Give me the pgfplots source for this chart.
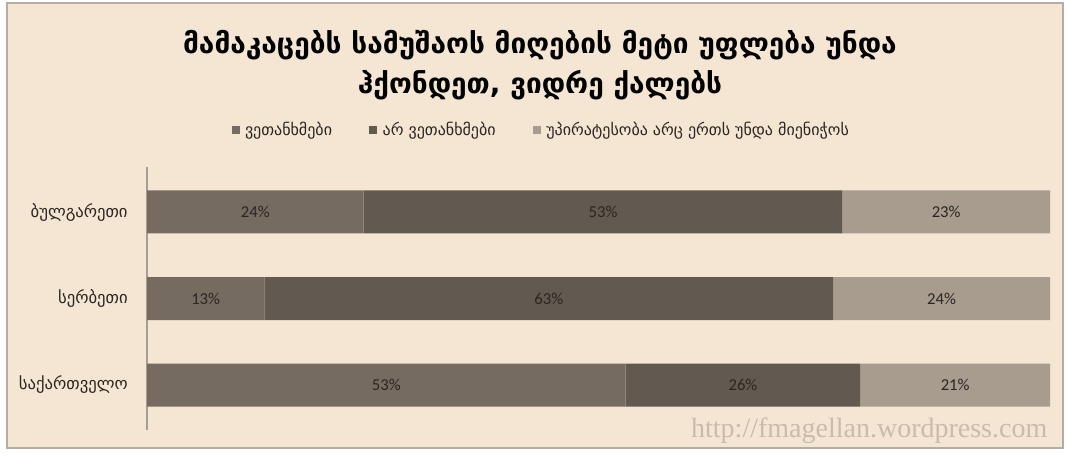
\documentclass[border=0pt]{standalone}
\usepackage{fontspec}
\usepackage{pgfplots}
\pgfplotsset{compat=1.18}
\setmainfont{Carlito}
\newfontfamily\geo{DejaVu Sans}
\newfontfamily\wmfont{Liberation Serif}

\definecolor{bgc}{HTML}{F5E5D3}
\definecolor{framec}{HTML}{B5ADA4}
\definecolor{agree}{HTML}{766B61}
\definecolor{disagree}{HTML}{625950}
\definecolor{neither}{HTML}{A89C8F}
\definecolor{txt}{HTML}{2A2622}

\begin{document}
\begin{tikzpicture}[x=0.75pt,y=0.75pt]
\path (0,0) rectangle (1070,455);
\filldraw[fill=bgc, draw=framec, line width=0.8pt] (7,7) rectangle (1063,452);

\begin{axis}[
  at={(110.25pt,18.75pt)}, anchor=south west,
  scale only axis, width=677.25pt, height=197.25pt,
  xbar stacked, bar width=32.25pt,
  xmin=0, xmax=100, ymin=-0.52, ymax=2.52,
  axis x line=none, axis y line*=left,
  y axis line style={draw=gray!70!bgc, line width=0.8pt},
  ytick={0,1,2},
  yticklabels={საქართველო, სერბეთი, ბულგარეთი},
  major tick length=0pt,
  yticklabel style={font=\geo\fontsize{12.5}{14}\selectfont, color=txt, xshift=-11pt},
  /pgf/number format/assume math mode=true,
  point meta=rawx,
  nodes near coords={\pgfmathprintnumber{\pgfplotspointmeta}\%},
  every node near coord/.append style={anchor=center, font=\fontsize{12.5}{14}\selectfont, color=txt},
  legend columns=3,
  legend style={at={(0.437,1.14)}, anchor=center, draw=none, fill=none,
    font=\geo\fontsize{12}{14}\selectfont, text=txt,
    /tikz/every even column/.append style={column sep=26pt}},
  legend image code/.code={\fill[#1] (0pt,-3pt) rectangle (6pt,3pt);},
]
\addplot[fill=agree, draw=none] coordinates {(53,0) (13,1) (24,2)};
\addplot[fill=disagree, draw=none] coordinates {(26,0) (63,1) (53,2)};
\addplot[fill=neither, draw=none] coordinates {(21,0) (24,1) (23,2)};
\legend{\,ვეთანხმები, \,არ ვეთანხმები, \,უპირატესობა არც ერთს უნდა მიენიჭოს}
\end{axis}

\node[align=center, font=\geo\bfseries\fontsize{21}{30}\selectfont, text=black] at (540,390)
  {მამაკაცებს სამუშაოს მიღების მეტი უფლება უნდა\\ჰქონდეთ, ვიდრე ქალებს};
\node[anchor=base east, font=\wmfont\fontsize{21}{21}\selectfont, text=black!18!bgc] at (1052,18)
  {http://fmagellan.wordpress.com};
\end{tikzpicture}
\end{document}
